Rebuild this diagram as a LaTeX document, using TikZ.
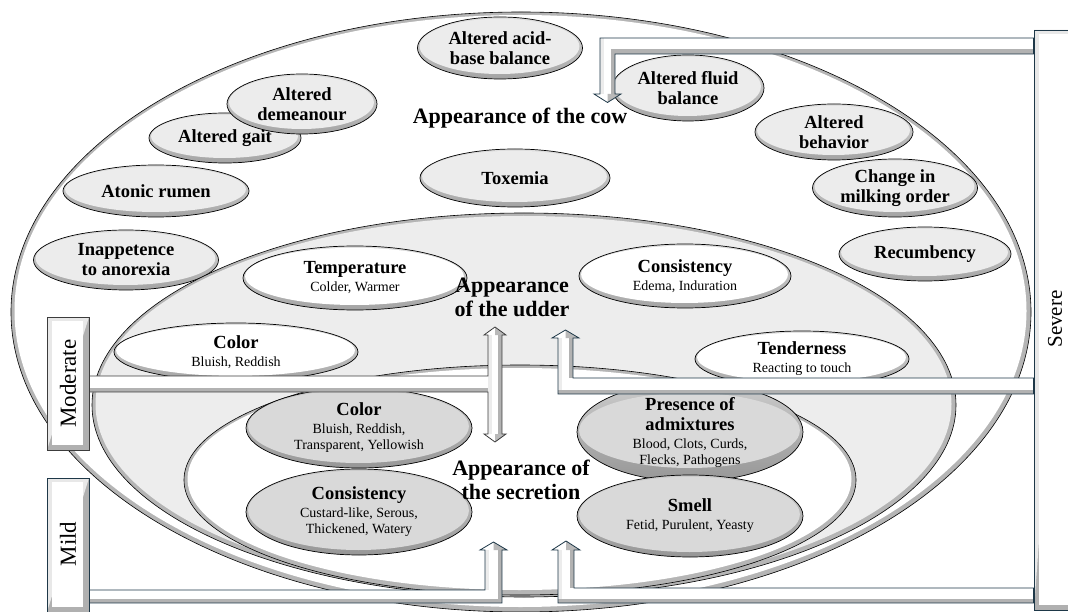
\documentclass[tikz,border=0pt]{standalone}
\usepackage{fontspec}
\setmainfont{Liberation Serif}
\usetikzlibrary{shapes.geometric}

\definecolor{navy}{RGB}{30,56,72}
\definecolor{lvlgrey}{RGB}{60,60,60}

\newcommand\ttlfont{\fontsize{18.5}{20}\selectfont\bfseries}
\newcommand\subfont{\fontsize{14}{15.5}\selectfont\mdseries}
\newcommand\headfont{\fontsize{22}{24}\selectfont\bfseries}
\newcommand\lvlfont{\fontsize{23}{24}\selectfont}

\tikzset{
  bub/.style={ellipse, draw=black, line width=0.7pt, inner sep=0pt, align=center, font=\ttlfont},
  bandlight/.style={top color=gray!25, bottom color=gray!72},
  banddark/.style={top color=gray!40, bottom color=gray!82},
  head/.style={align=center, font=\headfont, inner sep=0pt},
  lvl/.style={rectangle, inner sep=0pt, line width=0.8pt, fill=white, minimum width=42,
    path picture={
      \fill[gray!62] (path picture bounding box.south west) rectangle (path picture bounding box.north east);
      \fill[gray!18] (path picture bounding box.south west) -- (path picture bounding box.north west)
        -- (path picture bounding box.north east) -- cycle;
      \fill[white] ([shift={(5pt,5pt)}]path picture bounding box.south west)
        rectangle ([shift={(-6pt,-4pt)}]path picture bounding box.north east);
    }},
  lvltext/.style={rotate=90, font=\lvlfont, inner sep=0pt},
  shaftlight/.style={fill=gray!15},
  shaftdark/.style={fill=gray!60},
  headdark/.style={fill=gray!55},
  region/.style={line width=0.6pt, draw=black},
}

% bevelled ellipse: name, x, y, width, height, band style, face colour, text
\newcommand\bubble[8]{%
  \node[bub, #6, minimum width=#4, minimum height=#5,
    path picture={\fill[#7] ([xshift=-0.5pt,yshift=1.6pt]path picture bounding box.center)
      ellipse [x radius=#4/2-2.6, y radius=#5/2-3.4];}] (#1) at (#2,#3) {#8};}

% large bevelled region: x, y, x radius, y radius, face colour
\newcommand\regionellipse[5]{%
  \fill[gray!58] (#1,#2) ellipse [x radius=#3, y radius=#4];
  \fill[#5] (#1-0.5,#2-1) ellipse [x radius=#3-4, y radius=#4-4];
  \draw[region] (#1,#2) ellipse [x radius=#3, y radius=#4];}

% bevelled block arrow: outline colour, outline path, inner shading commands
\newcommand\blockarrow[3]{%
  \begin{scope}
    \clip #2;
    \fill[white] #2;
    #3
  \end{scope}
  \draw[#1, line width=0.8pt, line join=miter] #2;}

\begin{document}
\begin{tikzpicture}[x=1pt, y=-1pt]
\useasboundingbox (0,0) rectangle (1068,612);
\clip (0,0) rectangle (1068,612);
\fill[white] (0,0) rectangle (1068,612);

% ---- appearance of the cow ----
\regionellipse{521}{312}{510}{300}{white}

\bubble{acid}{500}{48}{165}{62}{bandlight}{gray!15}{Altered acid-\\base balance}
\bubble{gait}{225}{138}{152}{50}{bandlight}{gray!15}{Altered gait}
\bubble{demeanour}{302}{104}{150}{60}{bandlight}{gray!15}{Altered\\demeanour}
\bubble{rumen}{156}{191}{186}{52}{bandlight}{gray!15}{Atonic rumen}
\bubble{appetite}{126}{260}{185}{60}{bandlight}{gray!15}{Inappetence\\to anorexia}
\bubble{toxemia}{515}{178}{190}{58}{bandlight}{gray!15}{Toxemia}
\bubble{fluid}{688}{88}{152}{66}{bandlight}{gray!15}{Altered fluid\\balance}
\bubble{behavior}{834}{132}{158}{56}{bandlight}{gray!15}{Altered\\behavior}
\bubble{milking}{895}{188}{165}{58}{bandlight}{gray!15}{Change in\\milking order}
\bubble{recumb}{925}{254}{172}{54}{bandlight}{gray!15}{Recumbency}

\node[head] (cowhead) at (520,118) {Appearance of the cow};

% ---- appearance of the udder ----
\regionellipse{524}{405}{432}{192}{gray!14}

\bubble{temp}{355}{278}{224}{64}{bandlight}{white}{Temperature\\[-2pt]{\subfont Colder, Warmer}}
\bubble{consist}{685}{276}{212}{64}{bandlight}{white}{Consistency\\[-2pt]{\subfont Edema, Induration}}
\bubble{ucolor}{236}{352}{244}{58}{bandlight}{white}{Color\\[-2pt]{\subfont Bluish, Reddish}}
\bubble{tender}{802}{359}{214}{56}{bandlight}{white}{Tenderness\\[-2pt]{\subfont Reacting to touch}}

\node[head] (udderhead) at (512,297) {Appearance\\of the udder};

% ---- appearance of the secretion ----
\regionellipse{520}{480}{336}{115}{white}

\bubble{scolor}{359}{428}{226}{80}{banddark}{gray!30}{Color\\[-2pt]{\subfont Bluish, Reddish,}\\[-4pt]{\subfont Transparent, Yellowish}}
\bubble{sconsist}{359}{512}{226}{86}{banddark}{gray!30}{Consistency\\[-2pt]{\subfont Custard-like, Serous,}\\[-4pt]{\subfont Thickened, Watery}}
\bubble{admix}{690}{432}{226}{82}{banddark}{gray!30}{Presence of\\admixtures\\[-2pt]{\subfont Blood, Clots, Curds,}\\[-4pt]{\subfont Flecks, Pathogens}}
\bubble{smell}{690}{516}{226}{82}{banddark}{gray!30}{Smell\\[-2pt]{\subfont Fetid, Purulent, Yeasty}}

\node[head] (sechead) at (521,480) {Appearance of\\the secretion};

% ---- severity levels ----
\node[lvl, draw=lvlgrey, minimum height=133] (moderate) at (68,383.5) {};
\node[lvl, draw=navy, minimum height=134] (mild) at (68,545) {};
\node[lvl, draw=navy, minimum height=580] (severe) at (1055,320) {};

% severe -> cow
\blockarrow{navy}{(severe.west |- 0,38) -- (600,38) -- (600,94) -- (594,94) -- (607.5,102.5) -- (621,94) -- (615,94) -- (615,54) -- (severe.west |- 0,54) -- cycle}{
  \fill[shaftlight] (600,38) rectangle (604,94);
  \fill[shaftdark] (611,54) rectangle (615,94);
  \fill[shaftdark] (611,49.5) rectangle (severe.west |- 0,54);
  \fill[headdark] (607.5,94) -- (621,94) -- (607.5,102.5) -- cycle;}

% severe -> udder
\blockarrow{navy}{(severe.west |- 0,394) -- (558,394) -- (558,338) -- (552,338) -- (565.5,330) -- (579,338) -- (573,338) -- (573,378) -- (severe.west |- 0,378) -- cycle}{
  \fill[shaftlight] (558,338) rectangle (562,394);
  \fill[shaftdark] (569,338) rectangle (573,378);
  \fill[shaftdark] (558,389.5) rectangle (severe.west |- 0,394);
  \fill[headdark] (565.5,338) -- (579,338) -- (565.5,330) -- cycle;}

% severe -> secretion
\blockarrow{navy}{(severe.west |- 0,603) -- (558,603) -- (558,550) -- (552,550) -- (566,541) -- (580,550) -- (574,550) -- (574,588) -- (severe.west |- 0,588) -- cycle}{
  \fill[shaftlight] (558,550) rectangle (562,603);
  \fill[shaftdark] (570,550) rectangle (574,588);
  \fill[shaftdark] (558,598.5) rectangle (severe.west |- 0,603);
  \fill[headdark] (566,550) -- (580,550) -- (566,541) -- cycle;}

% moderate -> udder and secretion
\blockarrow{lvlgrey}{(moderate.east |- 0,376) -- (488,376) -- (488,335) -- (484,335) -- (495,327) -- (506,335) -- (502,335) -- (502,434) -- (506,434) -- (495,442) -- (484,434) -- (488,434) -- (488,392) -- (moderate.east |- 0,392) -- cycle}{
  \fill[shaftlight] (488,335) rectangle (492,434);
  \fill[shaftdark] (498,335) rectangle (502,434);
  \fill[shaftdark] (moderate.east |- 0,387.5) rectangle (488,392);
  \fill[headdark] (495,335) -- (506,335) -- (495,327) -- cycle;
  \fill[headdark] (495,434) -- (506,434) -- (495,442) -- cycle;}

% mild -> secretion
\blockarrow{navy}{(mild.east |- 0,590) -- (485,590) -- (485,550) -- (480,550) -- (493.5,542) -- (507,550) -- (502,550) -- (502,603) -- (mild.east |- 0,603) -- cycle}{
  \fill[shaftlight] (485,550) rectangle (489,590);
  \fill[shaftdark] (498,550) rectangle (502,603);
  \fill[shaftdark] (mild.east |- 0,598.5) rectangle (502,603);
  \fill[headdark] (493.5,550) -- (507,550) -- (493.5,542) -- cycle;}

% level bars drawn again over the arm ends
\node[lvl, draw=lvlgrey, minimum height=133] at (moderate) {};
\node[lvl, draw=navy, minimum height=134] at (mild) {};
\node[lvl, draw=navy, minimum height=580] at (severe) {};

\node[lvltext] (moderatelbl) at (moderate) {Moderate};
\node[lvltext] (mildlbl) at (68,544) {Mild};
\node[lvltext, font=\fontsize{21}{24}\selectfont] (severelbl) at (1055,319) {Severe};
\end{tikzpicture}
\end{document}
